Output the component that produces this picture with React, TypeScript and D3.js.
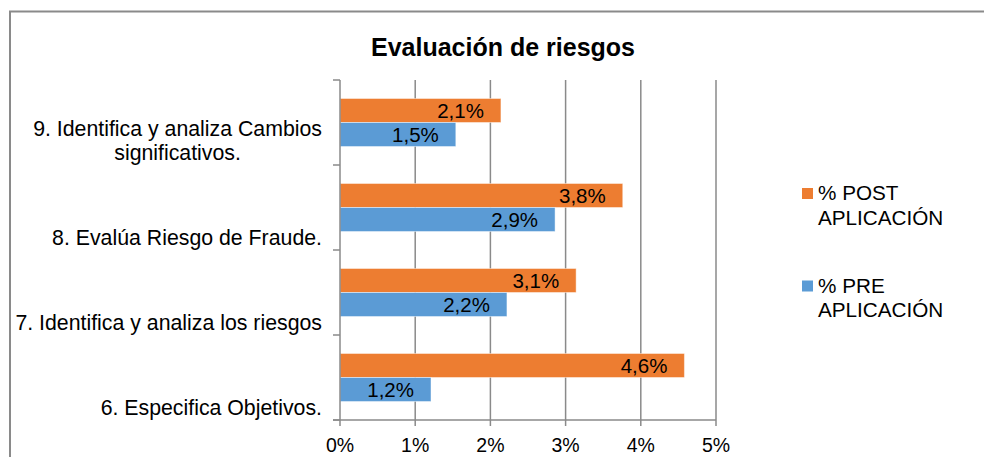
import React from "react";
import * as d3 from "d3";

// ---- data ----
const categories = [
  "6. Especifica Objetivos.",
  "7. Identifica y analiza los riesgos",
  "8. Evalúa Riesgo de Fraude.",
  "9. Identifica y analiza Cambios\nsignificativos.",
];
const postValues = [4.58, 3.14, 3.76, 2.14];
const preValues = [1.21, 2.22, 2.86, 1.54];
const seriesNames = ["% POST\nAPLICACIÓN", "% PRE\nAPLICACIÓN"];
const seriesKeys = ["post", "pre"];
const xTicks = [0, 1, 2, 3, 4, 5];
const title = "Evaluación de riesgos";

const COLORS: Record<string, string> = { post: "#ED7D31", pre: "#5B9BD5" };
const GRID = "#8a8a8a";
const FONT = '"Liberation Sans", Arial, sans-serif';

const W = 984;
const H = 457;
const plot = { left: 340, right: 716, top: 80, bottom: 420 };

let _ctx: CanvasRenderingContext2D | null = null;
function measure(text: string, font: string): number {
  if (!_ctx) _ctx = document.createElement("canvas").getContext("2d");
  if (!_ctx) return text.length * 9;
  _ctx.font = font;
  return _ctx.measureText(text).width;
}

export default function App() {
  const x = d3.scaleLinear().domain([0, 5]).range([plot.left, plot.right]);
  const y = d3
    .scaleBand<string>()
    .domain([...categories].reverse())
    .range([plot.top, plot.bottom])
    .paddingInner(0)
    .paddingOuter(0);
  const inner = d3
    .scaleBand<string>()
    .domain(seriesKeys)
    .range([0, y.bandwidth()])
    .paddingInner(0)
    .paddingOuter(0.77);

  const values: Record<string, number[]> = { post: postValues, pre: preValues };
  const fmt = (v: number) => d3.format(".1f")(v).replace(".", ",") + "%";

  const catSize = 21.3;
  const tickSize = 19.5;
  const labSize = 20.5;
  const legSize = 20.7;

  const bandEdges = [...y.domain().map((c) => y(c) as number), plot.bottom];

  return (
    <svg
      width={W}
      height={H}
      style={{ position: "absolute", left: 0, top: 0, background: "#fff" }}
      fontFamily={FONT}
    >
      <rect x={0} y={0} width={W} height={H} fill="#fff" />
      {/* outer border (cropped on right & bottom) */}
      <rect x={10} y={11.5} width={W + 20} height={H + 20} fill="none" stroke={GRID} strokeWidth={2} />

      {/* title */}
      <text x={503} y={56} textAnchor="middle" fontSize={25} fontWeight="bold" fill="#000">
        {title}
      </text>

      {/* gridlines */}
      {xTicks.slice(1).map((t) => (
        <line key={"g" + t} x1={x(t)} x2={x(t)} y1={plot.top} y2={plot.bottom} stroke={GRID} strokeWidth={1.5} />
      ))}

      {/* bars */}
      {categories.map((c, i) =>
        seriesKeys.map((k) => {
          const v = values[k][i];
          const by = (y(c) as number) + (inner(k) as number);
          const bh = inner.bandwidth();
          const x1 = x(v);
          return (
            <g key={c + k}>
              <rect
                x={x(0)}
                y={by}
                width={x1 - x(0)}
                height={bh}
                fill={COLORS[k]}
                stroke="#fff"
                strokeOpacity={0.45}
                strokeWidth={1}
              />
              <text
                x={x1 - 17}
                y={by + bh / 2 + 7.5}
                textAnchor="end"
                fontSize={labSize}
                fill="#000"
              >
                {fmt(v)}
              </text>
            </g>
          );
        })
      )}

      {/* axes */}
      <line x1={plot.left} x2={plot.left} y1={plot.top} y2={plot.bottom} stroke={GRID} strokeWidth={1.5} />
      <line x1={plot.left - 7} x2={plot.right} y1={plot.bottom} y2={plot.bottom} stroke={GRID} strokeWidth={1.5} />
      {bandEdges.map((e, i) => (
        <line key={"yt" + i} x1={plot.left - 7} x2={plot.left} y1={e} y2={e} stroke={GRID} strokeWidth={1.5} />
      ))}
      {xTicks.map((t) => (
        <g key={"xt" + t}>
          <line x1={x(t)} x2={x(t)} y1={plot.bottom} y2={plot.bottom + 6} stroke={GRID} strokeWidth={1.5} />
          <text x={x(t)} y={452} textAnchor="middle" fontSize={tickSize} fill="#000">
            {t + "%"}
          </text>
        </g>
      ))}

      {/* category labels */}
      {categories.map((c) => {
        const lines = c.split("\n");
        const cy = (y(c) as number) + y.bandwidth() / 2;
        const font = `${catSize}px ${FONT}`;
        const widths = lines.map((l) => measure(l, font));
        const blockW = Math.max(...widths);
        const right = 322;
        const cx = right - blockW / 2;
        const lh = 24.5;
        return lines.map((l, j) => {
          const by = cy + 37.5 - (lines.length - 1 - j) * lh;
          return (
            <text
              key={c + j}
              x={lines.length > 1 ? cx : right}
              y={by}
              textAnchor={lines.length > 1 ? "middle" : "end"}
              fontSize={catSize}
              fill="#000"
            >
              {l}
            </text>
          );
        });
      })}

      {/* legend */}
      {seriesKeys.map((k, i) => {
        const top = 188 + i * 92.5;
        const lines = seriesNames[i].split("\n");
        return (
          <g key={"lg" + k}>
            <rect x={802} y={top} width={11} height={11} fill={COLORS[k]} />
            {lines.map((l, j) => (
              <text key={j} x={818} y={top + 12 + j * 24.5} fontSize={legSize} fill="#000">
                {l}
              </text>
            ))}
          </g>
        );
      })}
    </svg>
  );
}
